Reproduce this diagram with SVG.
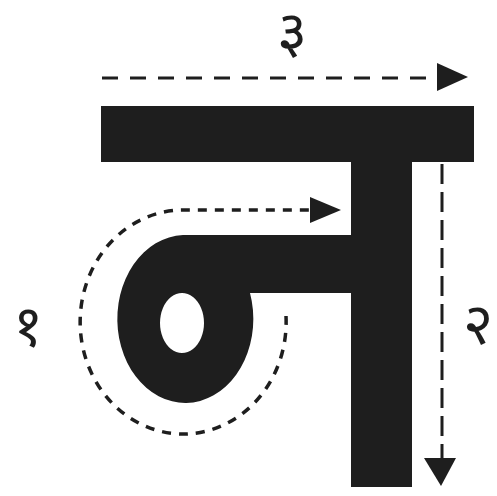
<svg xmlns="http://www.w3.org/2000/svg" width="497" height="496" viewBox="0 0 497 496">
<style>
.ink{fill:#1e1e1e}
.dash{fill:none;stroke:#1e1e1e;stroke-width:3}
.lbl{font-family:"Noto Sans Devanagari","Lohit Devanagari","Noto Sans","DejaVu Sans",sans-serif;font-size:58px;fill:#1e1e1e;text-anchor:middle}
</style>
<rect width="497" height="496" fill="#fff"/>
<g id="letter">
<rect class="ink" x="101" y="106" width="373" height="56"/>
<rect class="ink" x="351" y="106" width="61" height="381"/>
<path class="ink" fill-rule="evenodd" d="M183,235 L351,235 L351,293 L250,293 A68,84 0 1 1 183,235 Z M182,293 A22,30 0 1 0 182.01,293 Z"/>
</g>
<g id="connectors">
<path class="dash" d="M102,78 L437,78" stroke-dasharray="16,12"/>
<path class="ink" d="M437,63 L468,77 L437,91 Z"/>
<path class="dash" d="M442,164 L442,458" stroke-dasharray="20,8"/>
<path class="ink" d="M424,458 L456,458 L441,486 Z"/>
<path class="dash" d="M286,316 A103,112 0 1 1 183,210 L312,210" stroke-dasharray="9,8" style="stroke-width:3.5"/>
<path class="ink" d="M310,197 L341,210 L310,223 Z"/>
</g>
<g id="labels">
<text class="lbl" x="292" y="52">३</text>
<text class="lbl" x="478" y="344">२</text>
<text class="lbl" x="28" y="346">१</text>
</g>
</svg>
